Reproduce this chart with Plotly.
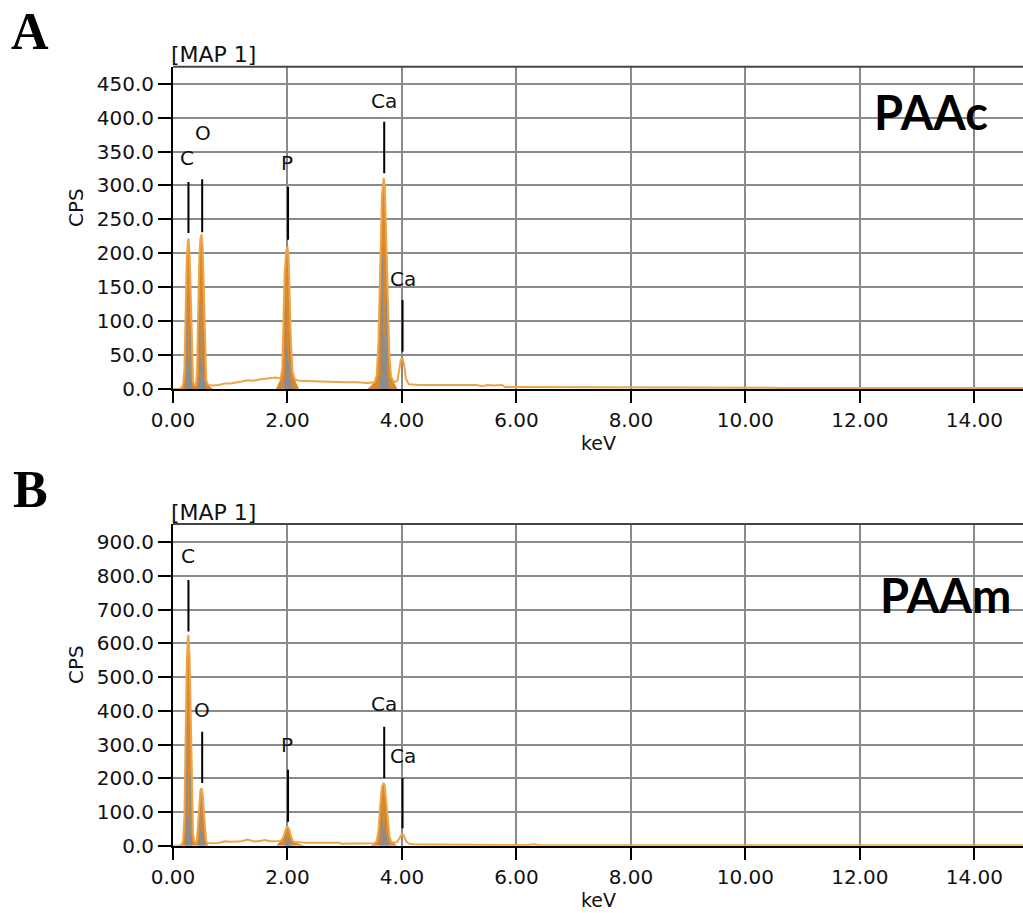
import numpy as np
import plotly.graph_objects as go

# ---------------- data ----------------
# Panel A (PAAc) spectrum: energy (keV) and counts (CPS)
energy_A = [0.00, 0.12, 0.16, 0.18, 0.20, 0.22, 0.24, 0.26, 0.27, 0.29, 0.31, 0.33, 0.35, 0.37,
            0.40, 0.42, 0.44, 0.46, 0.48, 0.50, 0.52, 0.54, 0.56, 0.58, 0.61,
            0.70, 0.80, 0.90, 1.00, 1.10, 1.20, 1.30, 1.40, 1.50, 1.60, 1.70, 1.80,
            1.88, 1.91, 1.93, 1.95, 1.98, 2.00, 2.02, 2.04, 2.06, 2.09, 2.13,
            2.20, 2.50, 2.80, 3.00, 3.20, 3.40,
            3.52, 3.56, 3.59, 3.62, 3.65, 3.68, 3.70, 3.72, 3.75, 3.78, 3.81, 3.86,
            3.92, 3.95, 3.98, 4.01, 4.04, 4.07, 4.12,
            4.30, 4.80, 5.30, 5.40, 5.50, 5.60, 5.75, 5.80, 6.50, 7.50,
            8.50, 9.50, 10.00, 10.20, 10.40, 10.60, 14.85]
counts_A = [0, 0, 3, 8, 30, 120, 190, 218, 222, 200, 130, 45, 12, 6,
            6, 25, 120, 195, 222, 228, 205, 135, 50, 14, 6,
            5, 6, 8, 8, 9, 11, 13, 12, 14, 15, 15, 17,
            15, 30, 100, 170, 205, 210, 195, 140, 70, 25, 14,
            12, 11, 11, 10, 10, 9,
            10, 20, 70, 190, 285, 311, 300, 240, 140, 50, 18, 10,
            12, 28, 43, 45, 35, 15, 7,
            6, 6, 6, 4, 6, 5, 6, 3, 3, 3,
            3, 2, 2, 3, 2, 1.5, 1.5]
gray_energy_A = [0.19, 0.21, 0.23, 0.25, 0.27, 0.29, 0.31, 0.33,
                 0.42, 0.44, 0.46, 0.48, 0.50, 0.52, 0.54, 0.56,
                 1.91, 1.94, 1.96, 1.98, 2.01, 2.03, 2.05, 2.08,
                 3.58, 3.61, 3.63, 3.65, 3.67, 3.70, 3.72, 3.74, 3.77]
gray_counts_A = [0, 14, 140, 50, 35, 85, 14, 0,
                 0, 14, 130, 45, 35, 85, 14, 0,
                 0, 14, 120, 60, 40, 85, 14, 0,
                 0, 15, 130, 195, 80, 60, 130, 15, 0]

# Panel B (PAAm) spectrum
energy_B = [0.00, 0.12, 0.16, 0.18, 0.20, 0.22, 0.24, 0.26, 0.27, 0.29, 0.31, 0.33, 0.35, 0.37,
            0.40, 0.42, 0.44, 0.46, 0.48, 0.50, 0.52, 0.54, 0.56, 0.58, 0.62,
            0.70, 0.80, 0.90, 1.00, 1.10, 1.20, 1.30, 1.40, 1.50, 1.60, 1.70, 1.80,
            1.88, 1.92, 1.95, 1.98, 2.00, 2.03, 2.06, 2.10,
            2.30, 2.60, 2.90, 2.95, 3.20, 3.45,
            3.52, 3.56, 3.59, 3.62, 3.65, 3.68, 3.70, 3.72, 3.75, 3.78, 3.81, 3.86,
            3.92, 3.96, 4.00, 4.03, 4.07, 4.12,
            4.20, 5.00, 6.00, 6.20, 6.30, 6.40, 6.60, 14.85]
counts_B = [0, 0, 5, 20, 90, 350, 540, 615, 625, 560, 360, 130, 35, 12,
            9, 20, 70, 135, 165, 171, 150, 95, 35, 12, 8,
            7, 8, 13, 12, 12, 13, 18, 13, 13, 17, 13, 14,
            14, 22, 40, 53, 56, 48, 28, 12,
            9, 9, 9, 6, 6, 6,
            7, 14, 45, 120, 175, 186, 178, 140, 80, 30, 12, 8,
            12, 26, 35, 32, 14, 6,
            4, 3, 2, 2, 4, 2, 1.5, 1.5]
gray_energy_B = [0.19, 0.21, 0.23, 0.25, 0.27, 0.29, 0.31, 0.33,
                 0.42, 0.44, 0.46, 0.48, 0.50, 0.52, 0.54, 0.56,
                 1.93, 1.96, 1.98, 2.00, 2.02, 2.04, 2.06,
                 3.58, 3.61, 3.63, 3.65, 3.67, 3.70, 3.72, 3.74, 3.77]
gray_counts_B = [0, 30, 400, 90, 70, 215, 30, 0,
                 0, 15, 125, 50, 40, 80, 15, 0,
                 0, 12, 30, 20, 25, 12, 0,
                 0, 12, 100, 70, 50, 85, 30, 12, 0]

# Peak regions (keV) filled in orange
roi_lo = [0.14, 0.40, 1.88, 3.52]
roi_hi = [0.37, 0.61, 2.13, 3.86]

# Peak identification markers
marker_elements = ["C", "O", "P", "Ca", "Ca"]
marker_energy = [0.27, 0.51, 2.01, 3.69, 4.01]
marker_A_top = [305, 309, 298, 394, 131]
marker_A_bottom = [230, 231, 220, 318, 55]
marker_A_label_y = [340, 378, 333, 425, 162]
marker_A_label_x = [0.25, 0.52, 2.0, 3.69, 4.01]
marker_B_top = [788, 338, 225, 353, 201]
marker_B_bottom = [635, 186, 71, 201, 52]
marker_B_label_y = [860, 402, 298, 420, 266]
marker_B_label_x = [0.26, 0.51, 2.0, 3.69, 4.01]

x_ticks = [0, 2, 4, 6, 8, 10, 12, 14]
y_ticks_A = list(range(0, 451, 50))
y_ticks_B = list(range(0, 901, 100))

# ---------------- styling ----------------
W, H = 1023, 913
L = 173
ORANGE_LINE = "#EDA547"
ORANGE_FILL = "#D9862C"
GRAY = "#8C8C8C"
TICKFONT = dict(family="DejaVu Sans", size=20, color="#111111")

def px_x(px):
    return (px - L) / (W - L)

def px_y(py):
    return 1 - py / H

domA = [px_y(389), px_y(66.7)]
domB = [px_y(845.7), px_y(524)]

fig = go.Figure()

def add_panel(energy, counts, g_e, g_c, xa, ya):
    e = np.array(energy)
    c = np.array(counts, dtype=float)
    in_roi = np.zeros_like(e, dtype=bool)
    for lo, hi in zip(roi_lo, roi_hi):
        in_roi |= (e >= lo) & (e <= hi)
    fill_c = np.where(in_roi, c, 0)
    fig.add_trace(go.Scatter(x=e, y=fill_c, mode="lines", line=dict(width=0, color=ORANGE_FILL),
                             fill="tozeroy", fillcolor=ORANGE_FILL, xaxis=xa, yaxis=ya,
                             hoverinfo="skip", showlegend=False))
    fig.add_trace(go.Scatter(x=g_e, y=g_c, mode="lines", line=dict(width=0, color=GRAY, shape="hv"),
                             fill="tozeroy", fillcolor=GRAY, xaxis=xa, yaxis=ya,
                             hoverinfo="skip", showlegend=False))
    fig.add_trace(go.Scatter(x=e, y=c, mode="lines", line=dict(width=2, color=ORANGE_LINE),
                             xaxis=xa, yaxis=ya, hoverinfo="skip", showlegend=False))

add_panel(energy_A, counts_A, gray_energy_A, gray_counts_A, "x", "y")
add_panel(energy_B, counts_B, gray_energy_B, gray_counts_B, "x2", "y2")

axis_common = dict(showgrid=True, gridcolor="#8a8a8a", gridwidth=1.5, zeroline=False,
                   showline=True, linecolor="black", linewidth=2, ticks="outside",
                   tickcolor="black", tickwidth=2, tickfont=TICKFONT, automargin=False)

fig.update_layout(
    width=W, height=H,
    margin=dict(l=L, r=0, t=0, b=0, pad=0, autoexpand=False),
    paper_bgcolor="white", plot_bgcolor="white",
    xaxis=dict(domain=[0, 1], range=[0, 14.85], tickvals=x_ticks,
               ticktext=[f"{v:.2f}" for v in x_ticks], ticklen=12, anchor="y", **axis_common),
    yaxis=dict(domain=domA, range=[0, 475], tickvals=y_ticks_A,
               ticktext=[f"{v:.1f}" for v in y_ticks_A], ticklen=13, anchor="x", **axis_common),
    xaxis2=dict(domain=[0, 1], range=[0, 14.85], tickvals=x_ticks,
                ticktext=[f"{v:.2f}" for v in x_ticks], ticklen=12, anchor="y2", **axis_common),
    yaxis2=dict(domain=domB, range=[0, 954], tickvals=y_ticks_B,
                ticktext=[f"{v:.1f}" for v in y_ticks_B], ticklen=13, anchor="x2", **axis_common),
)

shapes = []
annotations = []
for dom in (domA, domB):
    shapes.append(dict(type="line", xref="paper", yref="paper", x0=0, x1=1, y0=dom[1], y1=dom[1],
                       line=dict(color="#444444", width=2)))

label_font = dict(family="DejaVu Sans", size=20, color="#111111")
for xa, ya, tops, bots, ly, lx in (("x", "y", marker_A_top, marker_A_bottom, marker_A_label_y, marker_A_label_x),
                                   ("x2", "y2", marker_B_top, marker_B_bottom, marker_B_label_y, marker_B_label_x)):
    for el, en, t, b, yy, xx in zip(marker_elements, marker_energy, tops, bots, ly, lx):
        shapes.append(dict(type="line", xref=xa, yref=ya, x0=en, x1=en, y0=b, y1=t,
                           line=dict(color="black", width=2)))
        annotations.append(dict(x=xx, y=yy, xref=xa, yref=ya, text=el, showarrow=False,
                                font=label_font, xanchor="center", yanchor="middle"))

# Panel texts
for letter, py in (("A", 31), ("B", 489)):
    annotations.append(dict(x=px_x(30), y=px_y(py), xref="paper", yref="paper", text=f"<b>{letter}</b>",
                            showarrow=False, font=dict(family="Liberation Serif", size=52, color="black"),
                            xanchor="center", yanchor="middle"))
for py in (54.5, 512):
    annotations.append(dict(x=0, y=px_y(py), xref="paper", yref="paper", text="[MAP 1]",
                            showarrow=False, font=dict(family="DejaVu Sans", size=22, color="#111111"),
                            xanchor="left", yanchor="middle", xshift=-4))
for py in (443, 900):
    annotations.append(dict(x=0.5, y=px_y(py), xref="paper", yref="paper", text="keV",
                            showarrow=False, font=dict(family="DejaVu Sans", size=19, color="#111111"),
                            xanchor="center", yanchor="middle"))
for py in (208, 665):
    annotations.append(dict(x=px_x(76), y=px_y(py), xref="paper", yref="paper", text="CPS",
                            showarrow=False, textangle=-90,
                            font=dict(family="DejaVu Sans", size=20, color="#111111"),
                            xanchor="center", yanchor="middle"))
for txt, px, py in (("PAAc", 931, 112), ("PAAm", 945, 595)):
    annotations.append(dict(x=px_x(px), y=px_y(py), xref="paper", yref="paper", text=f"<b>{txt}</b>",
                            showarrow=False, font=dict(family="Lato", size=47, color="black"),
                            xanchor="center", yanchor="middle"))

fig.update_layout(shapes=shapes, annotations=annotations)
fig.write_html("out.html")
